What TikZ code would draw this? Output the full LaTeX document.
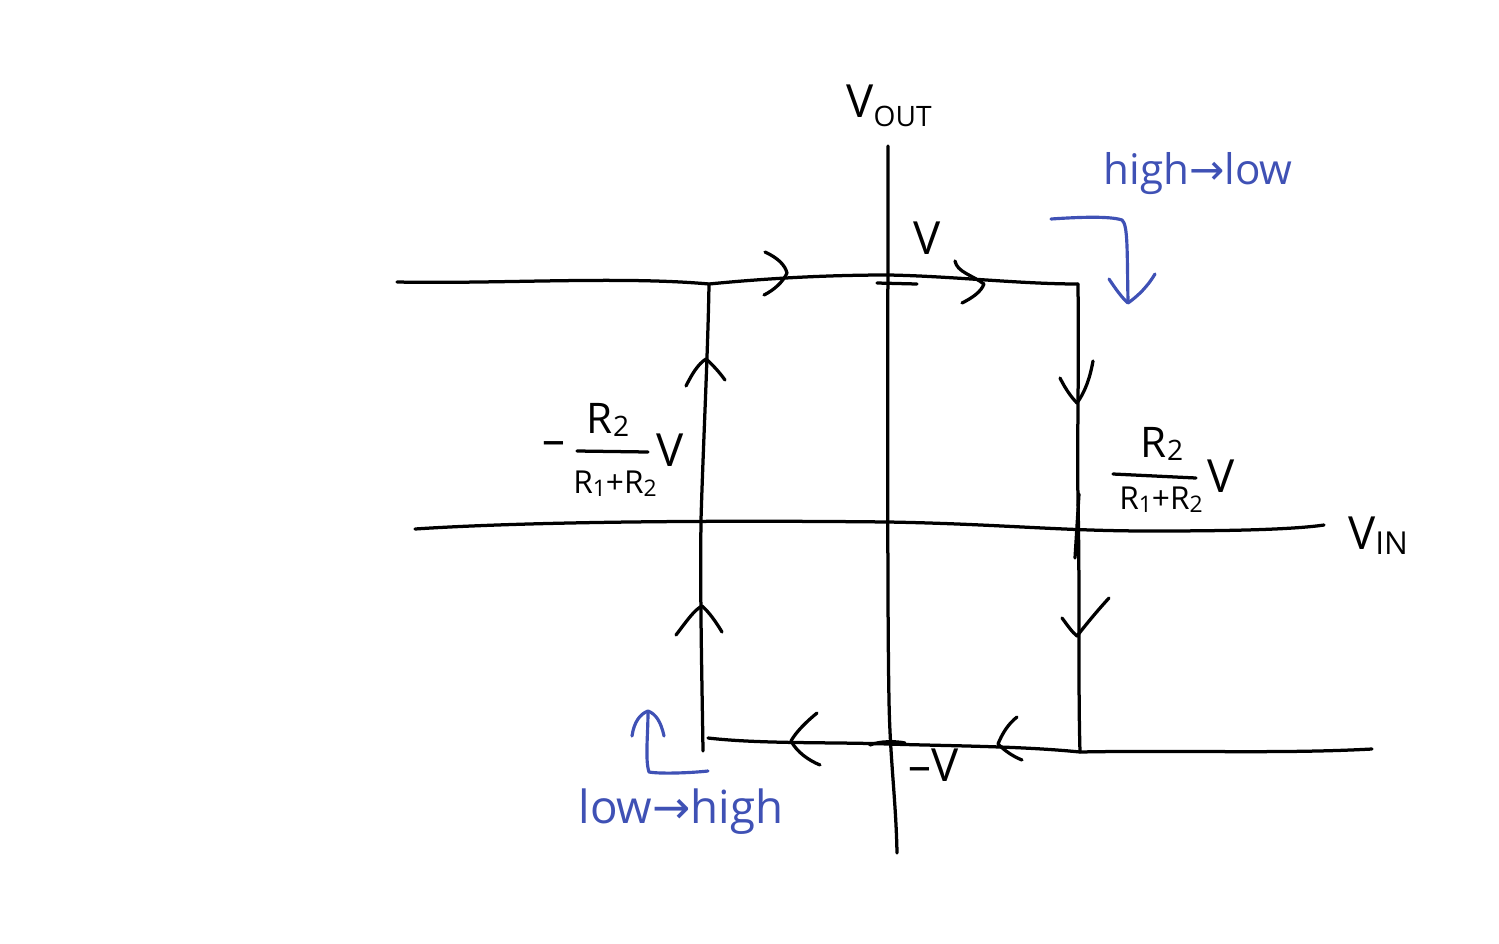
\documentclass[tikz,border=0pt]{standalone}
\usepackage{fontspec}
\setmainfont{Open Sans}
\newfontfamily\arrowfont{DejaVu Sans}
\definecolor{inkblue}{HTML}{3F51B5}
\tikzset{
  ink/.style={line width=1.85pt,black,line cap=round,line join=round},
  bink/.style={line width=1.8pt,inkblue,line cap=round,line join=round},
  lab/.style={inner sep=0pt,font=\fontsize{26}{28}\selectfont},
  blab/.style={inner sep=0pt,text=inkblue,font=\fontsize{24}{26}\selectfont},
  num/.style={inner sep=0pt,font=\fontsize{24}{26}\selectfont},
  den/.style={inner sep=0pt,font=\fontsize{18}{20}\selectfont},
}
\begin{document}
\begin{tikzpicture}[x=0.02cm,y=-0.02cm]
\useasboundingbox (0,0) rectangle (1499,944);
% axes
\draw[ink] (888,146) .. controls (888,300) and (887,600) .. (889,700) .. controls (890,760) and (896,800) .. (897,853);
\draw[ink] (415,529) .. controls (520,522) and (700,520) .. (888,522) .. controls (1000,524) and (1060,531) .. (1150,531) .. controls (1220,531) and (1290,530) .. (1324,525);
% loop
\draw[ink] (397,282) .. controls (500,284) and (620,276) .. (709,284) .. controls (770,278) and (830,275) .. (888,275) .. controls (950,276) and (1020,284) .. (1078,284);
\draw[ink] (1078,284) .. controls (1079,380) and (1077,440) .. (1078,500) .. controls (1080,600) and (1078,680) .. (1080,752);
\draw[ink] (709,284) .. controls (708,350) and (703,450) .. (701,520) .. controls (700,600) and (702,680) .. (703,751);
\draw[ink] (708,738) .. controls (760,744) and (830,742) .. (888,744) .. controls (950,746) and (1020,746) .. (1080,752) .. controls (1180,750) and (1280,754) .. (1372,749);
% ticks
\draw[ink] (877,283) -- (917,284);
\draw[ink] (1079,494) -- (1075,558);
\draw[ink] (870,745) .. controls (880,741) and (895,741) .. (905,743);
% arrowheads
\draw[ink] (765,252) .. controls (778,258) and (785,265) .. (787,273) .. controls (783,282) and (774,290) .. (764,295);
\draw[ink] (955,261) .. controls (957,272) and (972,275) .. (984,284) .. controls (981,292) and (972,298) .. (962,303);
\draw[ink] (1060,378) .. controls (1066,390) and (1072,398) .. (1077,403) .. controls (1085,392) and (1090,378) .. (1093,361);
\draw[ink] (1062,618) .. controls (1068,626) and (1072,632) .. (1077,636) .. controls (1088,622) and (1098,610) .. (1109,598);
\draw[ink] (686,386) .. controls (692,374) and (698,364) .. (706,359) .. controls (713,365) and (720,373) .. (725,380);
\draw[ink] (676,635) .. controls (686,622) and (694,610) .. (702,606) .. controls (709,612) and (716,622) .. (722,632);
\draw[ink] (817,713) .. controls (806,722) and (796,732) .. (791,741) .. controls (797,752) and (808,760) .. (820,765);
\draw[ink] (1017,717) .. controls (1008,724) and (1002,734) .. (998,744) .. controls (1004,750) and (1012,756) .. (1022,760);
% blue arrows
\draw[bink] (1051,219) .. controls (1080,217) and (1110,216) .. (1122,220) .. controls (1128,225) and (1127,250) .. (1128,301);
\draw[bink] (1109,279) .. controls (1115,288) and (1122,298) .. (1128,303) .. controls (1138,296) and (1148,286) .. (1155,274);
\draw[bink] (708,771) .. controls (690,773) and (660,774) .. (649,772) .. controls (645,760) and (648,735) .. (648,712);
\draw[bink] (632,736) .. controls (634,722) and (640,714) .. (648,711) .. controls (656,714) and (661,722) .. (664,736);
% labels
\node[lab] (vout) at (889,106) {V{\fontsize{16}{18}\selectfont\raisebox{-5pt}{OUT}}};
\node[lab] (v2) at (927,238) {V};
\node[lab] (v3) at (934,765) {–V};
\node[lab] (vin) at (1378,536) {V{\fontsize{18}{20}\selectfont\raisebox{-3pt}{IN}}};
\node[blab] (hl) at (1198,174) {high{\arrowfont→}low};
\node[blab,font=\fontsize{26}{28}\selectfont] (lh) at (681,812) {low{\arrowfont→}high};
% left fraction
\node[lab] (lm) at (554,449) {–};
\node[num] (ln) at (608,420) {R{\fontsize{16}{18}\selectfont\raisebox{-2pt}{2}}};
\draw[ink] (577,451) -- (648,452);
\node[den] (ld) at (615,484) {R{\fontsize{13}{15}\selectfont\raisebox{-1.5pt}{1}}+R{\fontsize{13}{15}\selectfont\raisebox{-1.5pt}{2}}};
\node[lab] (lv) at (670,450) {V};
% right fraction
\node[num] (rn) at (1162,444) {R{\fontsize{16}{18}\selectfont\raisebox{-2pt}{2}}};
\draw[ink] (1113,474) -- (1196,478);
\node[den] (rd) at (1161,500) {R{\fontsize{13}{15}\selectfont\raisebox{-1.5pt}{1}}+R{\fontsize{13}{15}\selectfont\raisebox{-1.5pt}{2}}};
\node[lab] (rv) at (1221,476) {V};
\end{tikzpicture}
\end{document}
